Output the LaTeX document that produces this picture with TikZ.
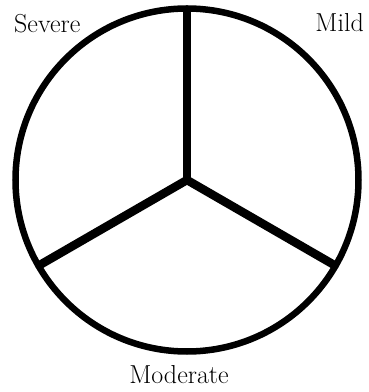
\documentclass[tikz,border=0pt]{standalone}
\usepackage{tikz}
\usetikzlibrary{positioning}
\tikzset{
    rim/.style={line width=6.5pt},
    spoke/.style={line width=8.5pt, line cap=round},
    grade/.style={font=\fontsize{26}{30}\selectfont, inner sep=0pt},
}
\begin{document}
\begin{tikzpicture}[x=1pt, y=1pt]
    \useasboundingbox (0,0) rectangle (368,392);

    % Outer circle
    \coordinate (hub) at (187,212);
    \draw[rim] (hub) circle (171.5);

    % Spokes dividing the three grades
    \foreach \a/\n in {90/top, 210/lowleft, 330/lowright} {
        \path (hub) ++(\a:170.5) coordinate (\n);
        \draw[spoke] (hub) -- (\n);
    }

    % Grade labels
    \node[grade, anchor=base west] (severe) at (14,359) {Severe};
    \node[grade, anchor=base east] (mild) at (364,360) {Mild};
    \node[grade, anchor=base] (moderate) at (179,9) {Moderate};
\end{tikzpicture}
\end{document}
